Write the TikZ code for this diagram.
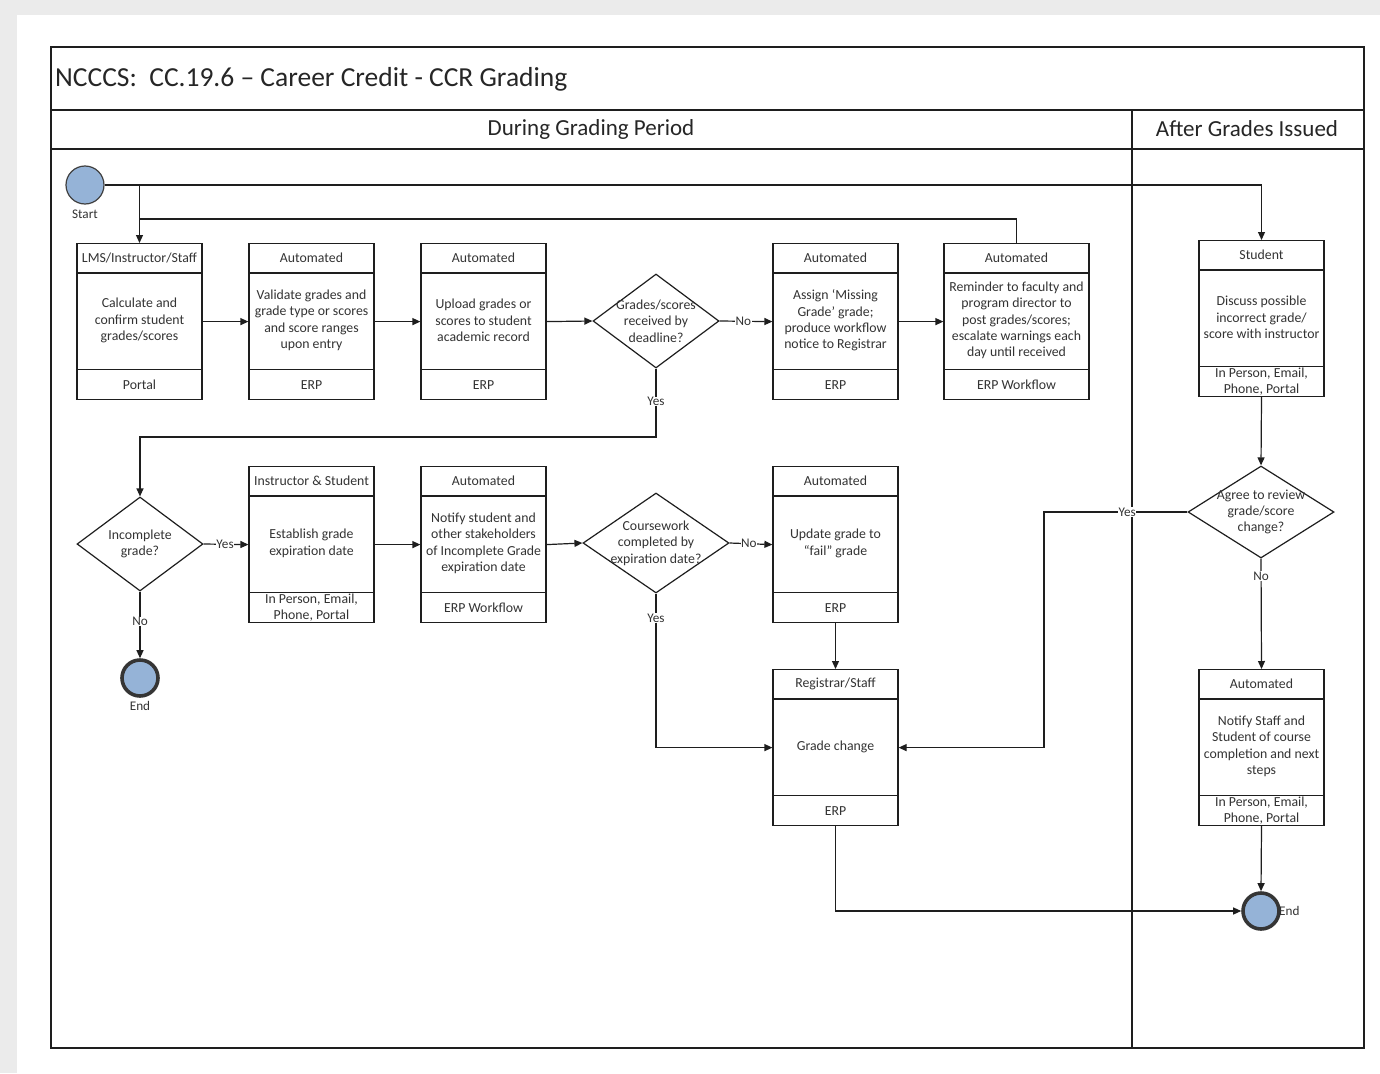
\documentclass[tikz,border=0pt]{standalone}
\usepackage{fontspec}
\setmainfont{Carlito}
\usetikzlibrary{arrows.meta,shapes.geometric,calc}
\definecolor{linec}{HTML}{1E1E1E}
\definecolor{txtc}{HTML}{333333}
\definecolor{eventfill}{HTML}{95B3D7}
\definecolor{pagegray}{HTML}{EBEBEB}

% process box: name, x centre, y top, width, header, body, footer
\newcommand\swimbox[7]{%
  \node[boxframe, minimum width=#4, anchor=north] (#1) at (#2,#3) {};
  \draw[boxline] ([yshift=-30pt]#1.north west) -- ([yshift=-30pt]#1.north east);
  \draw[boxline] ([yshift=31pt]#1.south west) -- ([yshift=31pt]#1.south east);
  \node[boxtxt] (#1-h) at ([yshift=-15pt]#1.north) {#5};
  \node[boxtxt] (#1-b) at ([yshift=-77.5pt]#1.north) {#6};
  \node[boxtxt] (#1-f) at ([yshift=15.5pt]#1.south) {#7};
}

\tikzset{
  boxframe/.style={draw=linec, line width=1.2pt, fill=white, minimum height=156, inner sep=0pt},
  boxline/.style={draw=linec, line width=1.2pt},
  boxtxt/.style={align=center, text=txtc, inner sep=0pt, font=\fontsize{13.8}{16.4}\selectfont},
  decision/.style={diamond, draw=linec, line width=1.2pt, fill=white, inner sep=0pt},
  lbl/.style={fill=white, inner sep=0.5pt, text=txtc, font=\fontsize{13.2}{15}\selectfont},
  evlbl/.style={text=txtc, inner sep=0pt, font=\fontsize{13.2}{15}\selectfont},
  startev/.style={circle, draw=linec!85, line width=1.2pt, fill=eventfill, minimum size=38, inner sep=0pt},
  endev/.style={circle, draw=linec!90, line width=3.6pt, fill=eventfill, minimum size=36, inner sep=0pt},
  flow/.style={draw=linec, line width=1.2pt, -{Triangle[length=8pt,width=7pt]}},
  plainflow/.style={draw=linec, line width=1.2pt},
  frame/.style={draw=linec, line width=1.2pt},
}

\begin{document}
\begin{tikzpicture}[x=1pt, y=-1pt]
  \useasboundingbox (0,0) rectangle (1380,1073);
  % page background
  \fill[pagegray] (0,0) rectangle (1380,1073);
  \fill[white] (17,15) rectangle (1380,1073);

  % pool frame, title and lanes
  \draw[frame] (51,47) rectangle (1364,1048);
  \draw[frame] (51,110) -- (1364,110);
  \draw[frame] (51,149) -- (1364,149);
  \draw[frame] (1132,110) -- (1132,1048);
  \node[anchor=west, text=black!85, inner sep=0pt, font=\fontsize{27.5}{30}\selectfont] (title) at (55,79) {NCCCS:\ \ CC.19.6 -- Career Credit - CCR Grading};
  \node[text=black!85, inner sep=0pt, font=\fontsize{23}{26}\selectfont] (lane1) at (591,129) {During Grading Period};
  \node[text=black!85, inner sep=0pt, font=\fontsize{23}{26}\selectfont] (lane2) at (1247,129) {After Grades Issued};

  % events
  \node[startev] (start) at (85,185) {};
  \node[evlbl] (startl) at (85,214) {Start};
  \node[endev] (end1) at (140,678) {};
  \node[evlbl] (end1l) at (140,706) {End};
  \node[endev] (end2) at (1261,911) {};
  \node[evlbl, anchor=west] (end2l) at (1279,911) {End};

  % first row
  \swimbox{b1}{139.5}{243}{125}{LMS/Instructor/Staff}{Calculate and\\confirm student\\grades/scores}{Portal}
  \swimbox{b2}{311.5}{243}{125}{Automated}{Validate grades and\\grade type or scores\\and score ranges\\upon entry}{ERP}
  \swimbox{b3}{483.5}{243}{125}{Automated}{Upload grades or\\scores to student\\academic record}{ERP}
  \node[decision, minimum width=126, minimum height=94] (d1) at (656,321) {};
  \node[boxtxt] (d1t) at (656,321) {Grades/scores\\received by\\deadline?};
  \swimbox{b4}{835.5}{243}{125}{Automated}{Assign ‘Missing\\Grade’ grade;\\produce workflow\\notice to Registrar}{ERP}
  \swimbox{b5}{1016.5}{243}{145}{Automated}{Reminder to faculty and\\program director to\\post grades/scores;\\escalate warnings each\\day until received}{ERP Workflow}
  \swimbox{stud}{1261.5}{240}{125}{Student}{Discuss possible\\incorrect grade/\\score with instructor}{In Person, Email,\\Phone, Portal}

  % second row
  \node[decision, minimum width=126, minimum height=94] (d2) at (140,544) {};
  \node[boxtxt] (d2t) at (140,544) {Incomplete\\grade?};
  \swimbox{b6}{311.5}{466}{125}{Instructor \& Student}{Establish grade\\expiration date}{In Person, Email,\\Phone, Portal}
  \swimbox{b7}{483.5}{466}{125}{Automated}{Notify student and\\other stakeholders\\of Incomplete Grade\\expiration date}{ERP Workflow}
  \node[decision, minimum width=146, minimum height=100] (d3) at (656,543) {};
  \node[boxtxt] (d3t) at (656,543) {Coursework\\completed by\\expiration date?};
  \swimbox{b8}{835.5}{466}{125}{Automated}{Update grade to\\“fail” grade}{ERP}
  \node[decision, minimum width=146, minimum height=92] (d4) at (1261,512) {};
  \node[boxtxt] (d4t) at (1261,512) {Agree to review\\grade/score\\change?};

  % third row
  \swimbox{b9}{835.5}{669}{125}{Registrar/Staff}{Grade change}{ERP}
  \swimbox{b10}{1261.5}{669}{125}{Automated}{Notify Staff and\\Student of course\\completion and next\\steps}{In Person, Email,\\Phone, Portal}

  % junction points of the routed connectors
  \coordinate (loopj) at (140,219);
  \coordinate (yesrow) at (0,437);
  \coordinate (backx) at (1044,0);

  % connectors
  \draw[flow] (start.east) -| (stud.north);
  \draw[flow] (start.east -| b1.north) -- (b1.north);
  \draw[plainflow] (b5.north) |- (loopj);
  \draw[flow] (b1.east) -- (b2.west);
  \draw[flow] (b2.east) -- (b3.west);
  \draw[flow] (b3.east) -- (d1.west);
  \draw[flow] (d1.east) -- node[lbl, pos=0.45] {No} (b4.west);
  \draw[flow] (b4.east) -- (b5.west);
  \draw[flow] (d1.south) -- node[lbl, pos=0.48] {Yes} (d1.south |- yesrow) -| (d2.north);
  \draw[flow] (d2.east) -- node[lbl, pos=0.48] {Yes} (b6.west);
  \draw[flow] (d2.south) -- node[lbl, pos=0.45] {No} (end1.north);
  \draw[flow] (b6.east) -- (b7.west);
  \draw[flow] (b7.east) -- (d3.west);
  \draw[flow] (d3.east) -- node[lbl, pos=0.45] {No} (b8.west);
  \draw[flow] (d3.south) |- node[lbl, pos=0.08] {Yes} (b9.west);
  \draw[flow] (b8.south) -- (b9.north);
  \draw[flow] (b9.south) |- (end2.west);
  \draw[flow] (stud.south) -- (d4.north);
  \draw[flow] (d4.west) -- node[lbl, pos=0.42] {Yes} (d4.west -| backx) |- (b9.east);
  \draw[flow] (d4.south) -- node[lbl, pos=0.16] {No} (b10.north);
  \draw[flow] (b10.south) -- (end2.north);
\end{tikzpicture}
\end{document}
